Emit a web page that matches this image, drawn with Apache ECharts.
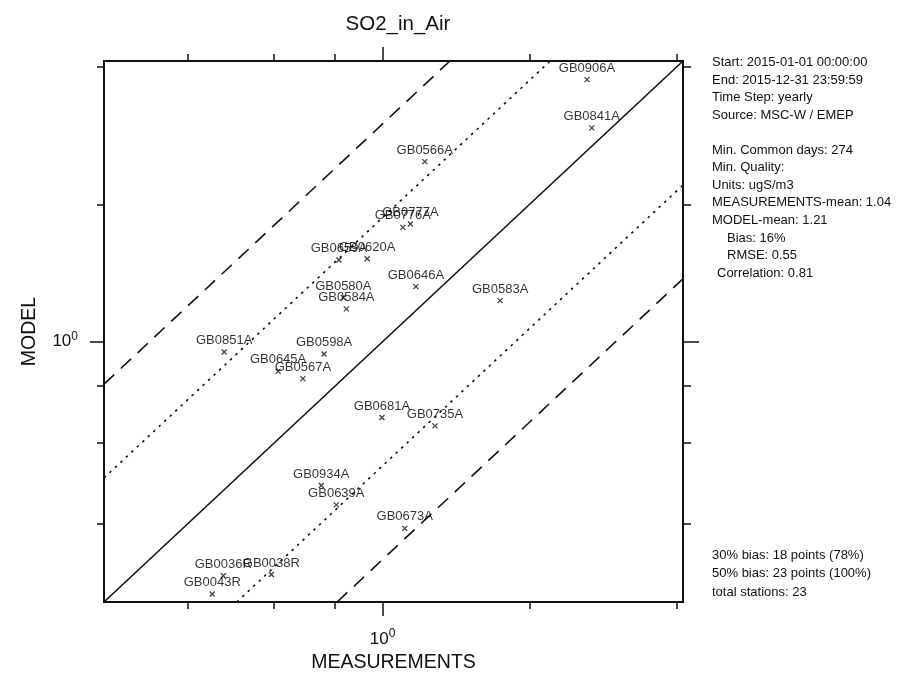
<!DOCTYPE html>
<html>
<head>
<meta charset="utf-8">
<script src="https://cdn.jsdelivr.net/npm/echarts@6/dist/echarts.min.js"></script>
<style>
    html, body { margin: 0; padding: 0; background: #fff; }
    #scatter { width: 910px; height: 678px; }
</style>
</head>
<body>
<div id="scatter"></div>
<script>
    // station values (ugS/m3)
    let stations = ["GB0906A","GB0841A","GB0566A","GB0776A","GB0777A","GB0659A","GB0620A","GB0580A","GB0584A","GB0646A","GB0583A","GB0851A","GB0598A","GB0645A","GB0567A","GB0681A","GB0735A","GB0934A","GB0639A","GB0673A","GB0036R","GB0038R","GB0043R"]
    let measurements = [2.62,2.68,1.22,1.10,1.14,0.814,0.930,0.831,0.843,1.17,1.74,0.474,0.759,0.611,0.687,0.997,1.28,0.749,0.804,1.11,0.472,0.592,0.448]
    let model = [3.75,2.94,2.48,1.78,1.81,1.51,1.52,1.25,1.18,1.32,1.23,0.949,0.940,0.861,0.830,0.682,0.654,0.484,0.439,0.390,0.307,0.309,0.280]

    let axisMin = 0.269
    let axisMax = 4.12
    let minorTicks = [0.4, 0.6, 0.8, 2, 4]
    let majorTicks = [1]
    let dotFactor = 1.87
    let dashFactor = 3.0

    let infoTop = ["Start: 2015-01-01 00:00:00","End: 2015-12-31 23:59:59","Time Step: yearly","Source: MSC-W / EMEP"]
    let infoMid = ["Min. Common days: 274","Min. Quality:","Units: ugS/m3","MEASUREMENTS-mean: 1.04","MODEL-mean: 1.21","Bias: 16%","RMSE: 0.55","Correlation: 0.81"]
    let infoBottom = ["30% bias: 18 points (78%)","50% bias: 23 points (100%)","total stations: 23"]

    let ink = '#111'
    let fontName = 'Liberation Sans, Arial, sans-serif'

    function logAxis(pos, ticks, len, labels, extra) {
        let ax = {
            type: 'log',
            position: pos,
            min: axisMin,
            max: axisMax,
            gridIndex: 0,
            axisLine: { show: false },
            splitLine: { show: false },
            minorTick: { show: false },
            axisTick: { show: true, inside: false, length: len, customValues: ticks, lineStyle: { color: ink, width: 1.5 } },
            axisLabel: labels ? {
                show: true,
                customValues: majorTicks,
                margin: labels,
                formatter: () => '{b|10}{s|0}',
                rich: {
                    b: { fontSize: 17, fontFamily: fontName, color: ink },
                    s: { fontSize: 12, fontFamily: fontName, color: ink, padding: [0, 0, 10, 0] }
                }
            } : { show: false }
        }
        return Object.assign(ax, extra || {})
    }

    let points = []
    for (let i = 0; i < stations.length; i++) {
        points.push({ name: stations[i], value: [measurements[i], model[i]] })
    }

    function refLine(data, type, width) {
        return {
            type: 'line',
            data: data,
            symbol: 'none',
            silent: true,
            animation: false,
            xAxisIndex: 0,
            yAxisIndex: 0,
            lineStyle: { color: ink, width: width, type: type },
            z: 1
        }
    }

    let textStyle = { fontSize: 13, fontFamily: fontName, fill: ink }
    let midIndent = [0, 0, 0, 0, 0, 15, 15, 5]
    let graphics = []
    infoTop.forEach((t, i) => graphics.push({ type: 'text', left: 712, top: 56 + i * 17.5, style: Object.assign({ text: t }, textStyle) }))
    infoMid.forEach((t, i) => graphics.push({ type: 'text', left: 712 + midIndent[i], top: 143.5 + i * 17.6, style: Object.assign({ text: t }, textStyle) }))
    infoBottom.forEach((t, i) => graphics.push({ type: 'text', left: 712, top: 548.5 + i * 18.5, style: Object.assign({ text: t }, textStyle) }))

    let chart = echarts.init(document.getElementById('scatter'))
    const option = {
        animation: false,
        title: {
            text: 'SO2_in_Air',
            left: 393,
            top: 9,
            textAlign: 'center',
            textStyle: { fontSize: 20.5, fontWeight: 'normal', fontFamily: fontName, color: ink }
        },
        grid: {
            left: 104,
            top: 61,
            right: 227,
            bottom: 76,
            show: true,
            borderColor: ink,
            borderWidth: 2,
            backgroundColor: '#fff'
        },
        xAxis: [
            logAxis('bottom', minorTicks, 7, 26, { name: 'MEASUREMENTS', nameLocation: 'middle', nameGap: 51, nameTextStyle: { fontSize: 19.5, fontFamily: fontName, color: ink } }),
            logAxis('bottom', majorTicks, 14, 0),
            logAxis('top', minorTicks, 7, 0),
            logAxis('top', majorTicks, 14, 0)
        ],
        yAxis: [
            logAxis('left', minorTicks, 7, 26, { name: 'MODEL', nameLocation: 'middle', nameGap: 64, nameTextStyle: { fontSize: 19.5, fontFamily: fontName, color: ink } }),
            logAxis('left', majorTicks, 14, 0),
            logAxis('right', minorTicks, 8, 0),
            logAxis('right', majorTicks, 16, 0)
        ],
        graphic: graphics,
        series: [
            refLine([[axisMin, axisMin], [axisMax, axisMax]], 'solid', 1.6),
            refLine([[axisMin, axisMin * dotFactor], [axisMax / dotFactor, axisMax]], [2.5, 5], 1.6),
            refLine([[axisMin * dotFactor, axisMin], [axisMax, axisMax / dotFactor]], [2.5, 5], 1.6),
            refLine([[axisMin, axisMin * dashFactor], [axisMax / dashFactor, axisMax]], [14, 9], 1.6),
            refLine([[axisMin * dashFactor, axisMin], [axisMax, axisMax / dashFactor]], [14, 9], 1.6),
            {
                type: 'scatter',
                data: points,
                symbol: 'path://M0,0L10,10M10,0L0,10',
                symbolSize: 5,
                itemStyle: { color: 'none', borderColor: ink, borderWidth: 1.3 },
                label: {
                    show: true,
                    position: 'top',
                    distance: 0,
                    formatter: p => p.name,
                    fontSize: 13,
                    fontFamily: fontName,
                    color: '#000'
                },
                z: 3
            }
        ]
    }
    chart.setOption(option)
</script>
</body>
</html>
